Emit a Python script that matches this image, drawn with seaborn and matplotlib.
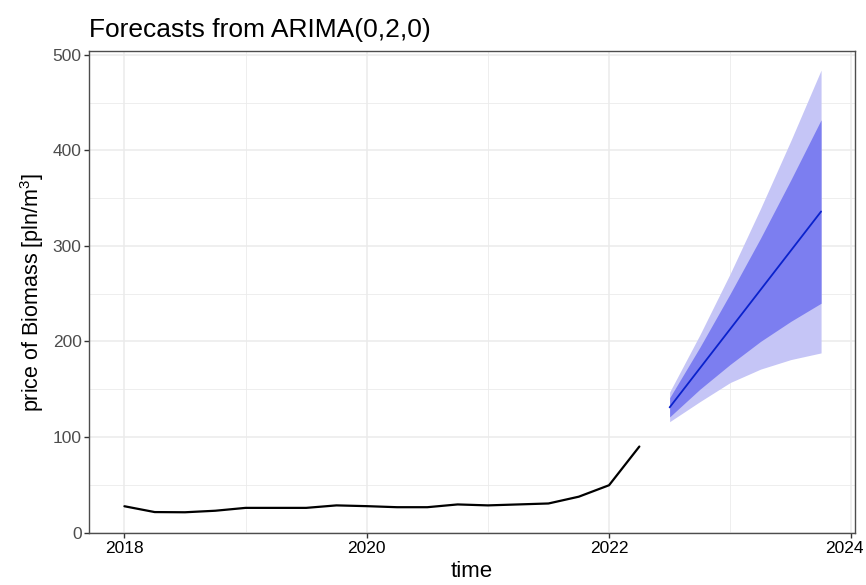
import matplotlib
matplotlib.use("Agg")
import matplotlib.pyplot as plt
import matplotlib.transforms as mtransforms
import numpy as np
import pandas as pd
import seaborn as sns

# quarterly biomass price, 2018Q1 - 2022Q2
hist_time = [2018.0, 2018.25, 2018.5, 2018.75, 2019.0, 2019.25, 2019.5, 2019.75,
             2020.0, 2020.25, 2020.5, 2020.75, 2021.0, 2021.25, 2021.5, 2021.75,
             2022.0, 2022.25]
hist_price = [27.5, 21.4, 21.2, 22.8, 25.8, 25.8, 25.8, 28.4,
              27.6, 26.5, 26.5, 29.4, 28.4, 29.4, 30.4, 37.5,
              49.5, 90.0]

# ARIMA(0,2,0) forecast, 2022Q3 - 2023Q4
fc_time = [2022.5, 2022.75, 2023.0, 2023.25, 2023.5, 2023.75]
fc_mean = [131, 172, 213, 254, 295, 336]
lo80 = [121, 150, 176, 200, 221, 240]
hi80 = [141, 194, 250, 308, 369, 432]
lo95 = [116, 137, 157, 171, 181, 188]
hi95 = [147, 207, 271, 339, 410, 484]

hist = pd.DataFrame({"time": hist_time, "price": hist_price})
fc = pd.DataFrame({"time": fc_time, "mean": fc_mean,
                   "lo80": lo80, "hi80": hi80, "lo95": lo95, "hi95": hi95})

sns.set_theme(style="white")
plt.rcParams["font.family"] = ["Liberation Sans", "DejaVu Sans"]
plt.rcParams["mathtext.default"] = "regular"

fig = plt.figure(figsize=(8.66, 5.85), dpi=100)
ax = fig.add_axes([0.1031, 0.0884, 0.8842, 0.8244])

ax.fill_between(fc["time"], fc["lo95"], fc["hi95"], color="#c5c5f6", lw=0, zorder=2)
ax.fill_between(fc["time"], fc["lo80"], fc["hi80"], color="#7c7ef0", lw=0, zorder=3)
sns.lineplot(data=hist, x="time", y="price", color="black", lw=1.6, ax=ax, zorder=4)
sns.lineplot(data=fc, x="time", y="mean", color="#0a22cc", lw=1.3, ax=ax, zorder=5)

ax.set_xlim(2017.71, 2024.03)
ax.set_ylim(-0.8, 504)
ax.set_xticks([2018, 2020, 2022, 2024])
ax.set_xticks([2019, 2021, 2023], minor=True)
ax.set_yticks([0, 100, 200, 300, 400, 500])
ax.set_yticks([50, 150, 250, 350, 450], minor=True)

ax.grid(which="major", color="#ebebeb", lw=1.1, zorder=0)
ax.grid(which="minor", color="#ebebeb", lw=0.6, zorder=0)
ax.set_axisbelow(True)

for s in ax.spines.values():
    s.set_color("#4d4d4d")
    s.set_linewidth(1.0)

ax.tick_params(axis="both", which="major", length=3.5, width=1.0, color="#333333",
               direction="out", bottom=True, left=True, labelsize=12.5, pad=2)
ax.tick_params(axis="x", labelcolor="black")
ax.tick_params(axis="y", labelcolor="#4d4d4d")
ax.tick_params(which="minor", length=0)

# last x label sits against the right edge, nudge it left like the reference
last = ax.get_xticklabels()[-1]
last.set_transform(last.get_transform() +
                   mtransforms.ScaledTranslation(-7 / 100, 0, fig.dpi_scale_trans))

ax.set_xlabel("time", fontsize=16, color="black", labelpad=4)
ax.set_ylabel("price of Biomass [pln/m$^{3}$]", fontsize=15.5, color="black", labelpad=5)
ax.set_title("Forecasts from ARIMA(0,2,0)", fontsize=19, loc="left", pad=10,
             color="black")

fig.savefig("out.png", dpi=100)
